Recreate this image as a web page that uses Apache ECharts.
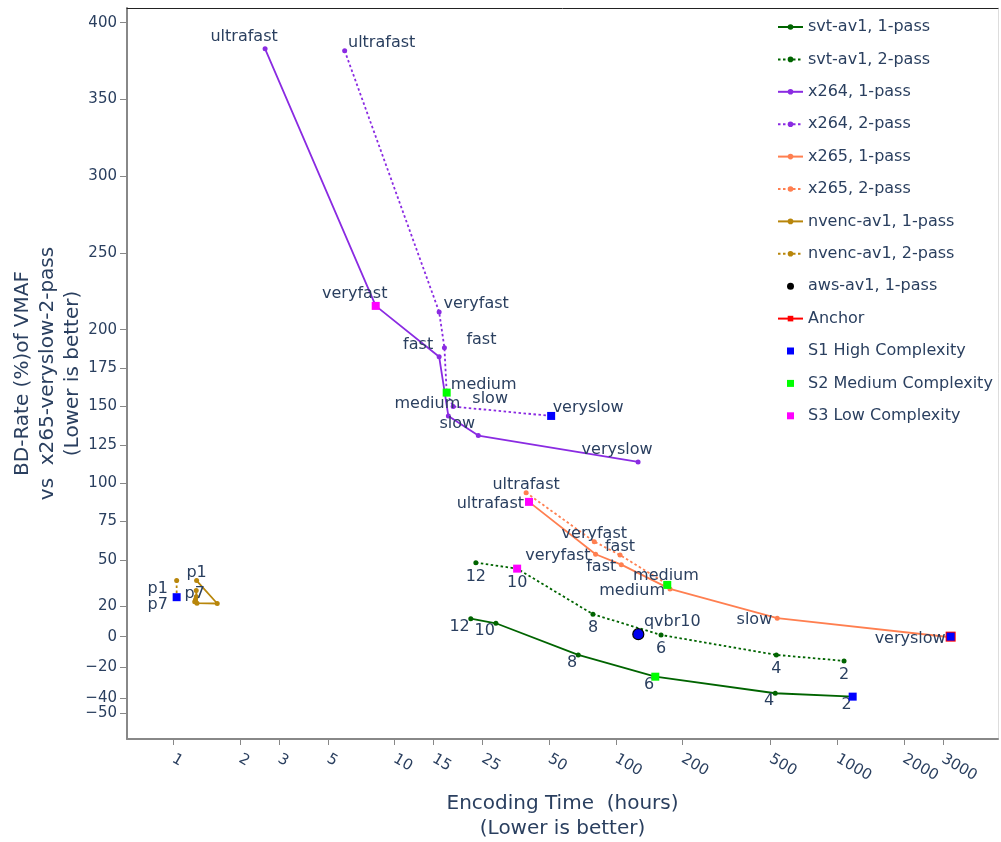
<!DOCTYPE html>
<html>
<head>
<meta charset="utf-8">
<title>Encoding time vs BD-Rate</title>
<script src="https://cdn.jsdelivr.net/npm/echarts@6/dist/echarts.min.js"></script>
<style>
  html, body { margin: 0; padding: 0; background: #fff; }
  #chart { width: 1001px; height: 842px; }
</style>
</head>
<body>
<div id="chart"></div>
<script>
// tick values on both axes
var xTicks = [1, 2, 3, 5, 10, 15, 25, 50, 100, 200, 500, 1000, 2000, 3000];
var yTicks = [400, 350, 300, 250, 200, 175, 150, 125, 100, 75, 50, 20, 0, -20, -40, -50];

// svt-av1 (preset labels)
var svtPresets = ['12', '10', '8', '6', '4', '2'];
var svt1Time = [22.1, 28.7, 67.6, 150.7, 525, 1175];
var svt1Bd = [11.7, 8.7, -11.9, -26.1, -36.9, -39.1];
var svt2Time = [23.3, 35.8, 78.8, 160, 531, 1074];
var svt2Bd = [48.2, 44.3, 14.6, 1.1, -11.9, -15.8];

// x264
var x264Presets = ['ultrafast', 'veryfast', 'fast', 'medium', 'slow', 'veryslow'];
var x264_1Time = [2.6, 8.22, 15.9, 17.5, 23.9, 126];
var x264_1Bd = [383, 215.5, 182.4, 143.8, 131, 113.8];
var x264_2Time = [5.95, 15.9, 16.8, 17.2, 18.4, 51];
var x264_2Bd = [381.8, 211.6, 188.3, 159, 149.9, 143.8];

// x265
var x265_1Presets = ['ultrafast', 'veryfast', 'fast', 'medium', 'slow', 'veryslow'];
var x265_1Time = [40.5, 81, 105.8, 175.6, 536, 3257];
var x265_1Bd = [87.8, 53.7, 46.9, 31.1, 12.0, -0.4];
var x265_2Presets = ['ultrafast', 'veryfast', 'fast', 'medium'];
var x265_2Time = [39.3, 79.9, 104.4, 168.4];
var x265_2Bd = [93.8, 61.9, 53.2, 34.7];

// nvenc-av1
var nvenc1Presets = ['p1', '', '', '', '', '', 'p7'];
var nvenc1Time = [1.275, 1.58, 1.28, 1.27, 1.27, 1.26, 1.25];
var nvenc1Bd = [36.5, 21.6, 21.8, 30, 26, 24, 22.8];
var nvenc2Presets = ['p1', 'p7'];
var nvenc2Time = [1.036, 1.036];
var nvenc2Bd = [36.5, 25.7];

// aws-av1
var awsNames = ['qvbr10'];
var awsTime = [126.3];
var awsBd = [1.6];

// anchor and complexity markers
var anchorTime = [3257];
var anchorBd = [0];
var s1Time = [51, 1175, 1.036, 3257];
var s1Bd = [143.8, -39.1, 25.7, 0];
var s2Time = [17.2, 150.7, 170.7];
var s2Bd = [159, -26.1, 33.7];
var s3Time = [8.22, 40.5, 35.8];
var s3Bd = [215.5, 87.8, 44.3];

var textColor = '#2a3f5f';
var font = 'DejaVu Sans';

function pts(t, b, n) {
	return t.map(function (v, i) { return [v, b[i], n ? n[i] : '']; });
}

function pointLabel(extra) {
	return Object.assign({
		show: true,
		formatter: function (p) { return p.data[2]; },
		fontSize: 16,
		fontFamily: font,
		color: textColor,
		textBorderWidth: 0,
		textBorderColor: 'transparent'
	}, extra);
}

function lineSeries(name, color, dotted, data, label) {
	return {
		name: name,
		type: 'line',
		data: data,
		symbol: 'circle',
		symbolSize: 5,
		itemStyle: { color: color },
		lineStyle: { color: color, width: 1.8, type: dotted ? [2.5, 2.5] : 'solid' },
		label: pointLabel(label),
		emphasis: { disabled: true },
		z: 2
	};
}

function markerSeries(name, color, data, size) {
	return {
		name: name,
		type: 'scatter',
		data: data,
		symbol: 'rect',
		symbolSize: size,
		itemStyle: { color: color, opacity: 1 },
		emphasis: { disabled: true },
		z: 4
	};
}

// square legend icon (keeps its aspect, unlike 'rect')
var squareIcon = 'path://M0,0h10v10h-10z';

var chart = echarts.init(document.getElementById('chart'));

var option = {
	animation: false,
	textStyle: { fontFamily: font },
	grid: { left: 127, right: 3, top: 8, bottom: 103, outerBoundsMode: 'none' },
	legend: {
		orient: 'vertical',
		left: 772,
		top: 13,
		itemWidth: 25,
		itemHeight: 7,
		itemGap: 14.4,
		textStyle: { fontSize: 16, color: textColor, fontFamily: font, lineHeight: 18 },
		data: [
			'svt-av1, 1-pass', 'svt-av1, 2-pass', 'x264, 1-pass', 'x264, 2-pass',
			'x265, 1-pass', 'x265, 2-pass', 'nvenc-av1, 1-pass', 'nvenc-av1, 2-pass',
			{ name: 'aws-av1, 1-pass', icon: 'circle', itemStyle: { color: '#000', borderWidth: 0, opacity: 1 } },
			'Anchor',
			{ name: 'S1 High Complexity', icon: squareIcon },
			{ name: 'S2 Medium Complexity', icon: squareIcon },
			{ name: 'S3 Low Complexity', icon: squareIcon }
		]
	},
	xAxis: [{
		type: 'log',
		min: 0.618,
		max: 5330,
		name: 'Encoding Time  (hours)\n(Lower is better)',
		nameLocation: 'middle',
		nameGap: 52,
		nameMoveOverlap: false,
		nameTextStyle: { fontSize: 20, color: textColor, lineHeight: 25, fontFamily: font },
		axisLine: { onZero: false, lineStyle: { color: '#888', width: 2 } },
		axisTick: { customValues: xTicks, length: 6, lineStyle: { color: '#888' } },
		axisLabel: {
			customValues: xTicks,
			rotate: -30,
			margin: 19,
			hideOverlap: false,
			fontSize: 15,
			color: textColor,
			fontFamily: font,
			formatter: function (v) { return String(Math.round(v)); }
		},
		splitLine: { show: false },
		minorSplitLine: { show: false }
	}, {
		type: 'log',
		position: 'top',
		min: 0.618,
		max: 5330,
		axisLine: { onZero: false, lineStyle: { color: '#222', width: 1 } },
		axisTick: { show: false },
		axisLabel: { show: false },
		splitLine: { show: false }
	}],
	yAxis: [{
		type: 'value',
		min: -66.7,
		max: 409.6,
		name: 'BD-Rate (%)of VMAF\nvs  x265-veryslow-2-pass\n(Lower is better)',
		nameLocation: 'middle',
		nameRotate: 90,
		nameGap: 42,
		nameMoveOverlap: false,
		nameTextStyle: { fontSize: 20, color: textColor, lineHeight: 25, fontFamily: font },
		axisLine: { show: true, onZero: false, lineStyle: { color: '#888', width: 2 } },
		axisTick: { show: true, customValues: yTicks, length: 7, lineStyle: { color: '#888' } },
		axisLabel: {
			customValues: yTicks,
			margin: 10,
			hideOverlap: false,
			fontSize: 15,
			color: textColor,
			fontFamily: font,
			formatter: function (v) { return v < 0 ? '\u2212' + (-v) : String(v); }
		},
		splitLine: { show: false }
	}, {
		type: 'value',
		position: 'right',
		min: -66.7,
		max: 409.6,
		axisLine: { show: true, onZero: false, lineStyle: { color: '#ddd', width: 1 } },
		axisTick: { show: false },
		axisLabel: { show: false },
		splitLine: { show: false }
	}],
	series: [
		lineSeries('svt-av1, 1-pass', '#006400', false, pts(svt1Time, svt1Bd, svtPresets),
			{ position: 'inside', align: 'right', offset: [-1, 8] }),
		lineSeries('svt-av1, 2-pass', '#006400', true, pts(svt2Time, svt2Bd, svtPresets),
			{ position: 'inside', offset: [0, 14] }),
		lineSeries('x264, 1-pass', '#8a2be2', false, pts(x264_1Time, x264_1Bd, x264Presets),
			{ position: 'inside', offset: [-21, -12] }),
		lineSeries('x264, 2-pass', '#8a2be2', true, pts(x264_2Time, x264_2Bd, x264Presets),
			{ position: 'inside', offset: [37, -8] }),
		lineSeries('x265, 1-pass', '#ff7f50', false, pts(x265_1Time, x265_1Bd, x265_1Presets),
			{ position: 'inside', align: 'right', offset: [-5, 2] }),
		lineSeries('x265, 2-pass', '#ff7f50', true, pts(x265_2Time, x265_2Bd, x265_2Presets),
			{ position: 'inside', offset: [0, -8] }),
		lineSeries('nvenc-av1, 1-pass', '#b8860b', false, pts(nvenc1Time, nvenc1Bd, nvenc1Presets),
			{ position: 'inside', offset: [0, -8] }),
		lineSeries('nvenc-av1, 2-pass', '#b8860b', true, pts(nvenc2Time, nvenc2Bd, nvenc2Presets),
			{ position: 'inside', offset: [-19, 8] }),
		{
			name: 'aws-av1, 1-pass',
			type: 'scatter',
			data: pts(awsTime, awsBd, awsNames),
			symbol: 'circle',
			symbolSize: 11,
			itemStyle: { color: '#0000ee', borderColor: '#000', borderWidth: 1.2, opacity: 1 },
			label: pointLabel({ position: 'inside', offset: [34, -12] }),
			emphasis: { disabled: true },
			z: 3
		},
		{
			name: 'Anchor',
			type: 'line',
			data: pts(anchorTime, anchorBd),
			symbol: 'rect',
			symbolSize: 10,
			itemStyle: { color: '#ff0000' },
			lineStyle: { color: '#ff0000', width: 2 },
			emphasis: { disabled: true },
			z: 3
		},
		markerSeries('S1 High Complexity', '#0000ff', pts(s1Time, s1Bd), 8),
		markerSeries('S2 Medium Complexity', '#00ff00', pts(s2Time, s2Bd), 8),
		markerSeries('S3 Low Complexity', '#ff00ff', pts(s3Time, s3Bd), 8)
	]
};

chart.setOption(option);
</script>
</body>
</html>
